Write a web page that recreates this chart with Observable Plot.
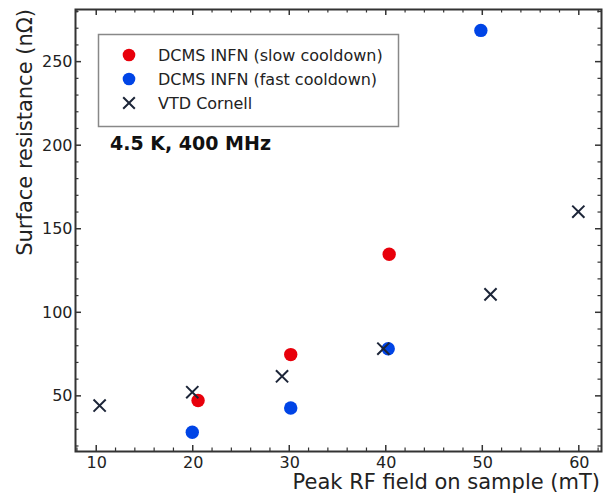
<!DOCTYPE html>
<html>
<head>
<meta charset="utf-8">
<script src="https://cdn.jsdelivr.net/npm/d3@7"></script>
<script src="https://cdn.jsdelivr.net/npm/@observablehq/plot@0.6"></script>
<style>
  html, body { margin: 0; padding: 0; background: #fff; }
  svg { font-family: "DejaVu Sans", sans-serif; }
</style>
</head>
<body>
<div id="chart"></div>
<script>
// Data
const slowField = [20.5, 30.1, 40.3];
const slowRs    = [47.5, 75, 135];
const fastField = [19.9, 30.1, 40.2, 49.8];
const fastRs    = [28.5, 43, 78.5, 269];
const vtdField  = [10.3, 19.9, 29.2, 39.7, 50.8, 59.9];
const vtdRs     = [44.5, 52.5, 62, 78.5, 111, 160.5];

const seriesNames = ["DCMS INFN (slow cooldown)", "DCMS INFN (fast cooldown)", "VTD Cornell"];
const xMajor = [10, 20, 30, 40, 50, 60];
const yMajor = [50, 100, 150, 200, 250];
const xMinor = d3.range(8, 63, 2).filter(v => v % 10 !== 0);
const yMinor = d3.range(20, 281, 10).filter(v => v % 50 !== 0);

const slow = slowField.map((x, i) => ({x, y: slowRs[i]}));
const fast = fastField.map((x, i) => ({x, y: fastRs[i]}));
const vtd  = vtdField.map((x, i) => ({x, y: vtdRs[i]}));

const RED = "#e8000b", BLUE = "#0044e6", NAVY = "#1c2538", AX = "#333";

const ML = 75, MR = 7, MT = 9, MB = 45, W = 608, H = 496;

const plot = Plot.plot({
  width: W,
  height: H,
  marginLeft: ML,
  marginRight: MR,
  marginTop: MT,
  marginBottom: MB,
  style: {fontFamily: "DejaVu Sans, sans-serif", fontSize: "16px", color: "#222", background: "#fff"},
  x: {domain: [7.8, 62.3]},
  y: {domain: [17, 281.5]},
  marks: [
    Plot.axisX({anchor: "bottom", ticks: xMajor, tickSize: 0, tickPadding: 5, fontSize: 16, label: null}),
    Plot.axisY({anchor: "left", ticks: yMajor, tickSize: 0, tickPadding: 3, fontSize: 16, label: null}),
    Plot.frame({stroke: AX, strokeWidth: 2}),
    Plot.dot(slow, {x: "x", y: "y", r: 6.7, fill: RED}),
    Plot.dot(fast, {x: "x", y: "y", r: 6.7, fill: BLUE}),
    Plot.dot(vtd, {x: "x", y: "y", r: 5.6, symbol: "times", stroke: NAVY, strokeWidth: 2})
  ]
});
document.getElementById("chart").appendChild(plot);

const svg = d3.select(plot);
const sx = plot.scale("x"), sy = plot.scale("y");
const X0 = ML, X1 = W - MR, Y0 = MT, Y1 = H - MB;

// inward ticks on all four sides
const tg = svg.append("g").attr("stroke", AX).attr("fill", "none");
function xt(vals, len, w) {
  vals.forEach(v => {
    const px = sx.apply(v);
    tg.append("line").attr("x1", px).attr("x2", px).attr("y1", Y1).attr("y2", Y1 - len).attr("stroke-width", w);
    tg.append("line").attr("x1", px).attr("x2", px).attr("y1", Y0).attr("y2", Y0 + len).attr("stroke-width", w);
  });
}
function yt(vals, len, w) {
  vals.forEach(v => {
    const py = sy.apply(v);
    tg.append("line").attr("y1", py).attr("y2", py).attr("x1", X0).attr("x2", X0 + len).attr("stroke-width", w);
    tg.append("line").attr("y1", py).attr("y2", py).attr("x1", X1).attr("x2", X1 - len).attr("stroke-width", w);
  });
}
xt(xMajor, 6, 1.5); xt(xMinor, 3.5, 1.2);
yt(yMajor, 6, 1.5); yt(yMinor, 3.5, 1.2);

// axis titles
svg.append("text")
  .attr("transform", "translate(32,9) rotate(-90)")
  .attr("text-anchor", "end")
  .attr("font-size", 21)
  .attr("fill", "#222")
  .text("Surface resistance (nΩ)");
svg.append("text")
  .attr("x", 600).attr("y", 489)
  .attr("text-anchor", "end")
  .attr("font-size", 21)
  .attr("fill", "#222")
  .text("Peak RF field on sample (mT)");

// annotation
svg.append("text")
  .attr("x", 110).attr("y", 150)
  .attr("text-anchor", "start")
  .attr("font-size", 19)
  .attr("font-weight", "bold")
  .attr("fill", "#111")
  .text("4.5 K, 400 MHz");

// legend
const lg = svg.append("g");
lg.append("rect").attr("x", 98.5).attr("y", 34.5).attr("width", 300).attr("height", 92)
  .attr("fill", "#fff").attr("stroke", "#888").attr("stroke-width", 1.5);
const rowY = [55, 79, 103];
lg.append("circle").attr("cx", 129).attr("cy", rowY[0]).attr("r", 6.3).attr("fill", RED);
lg.append("circle").attr("cx", 129).attr("cy", rowY[1]).attr("r", 6.3).attr("fill", BLUE);
lg.append("path").attr("d", d3.symbol(d3.symbolTimes, 90)()).attr("transform", `translate(129,${rowY[2]})`)
  .attr("stroke", NAVY).attr("stroke-width", 2).attr("fill", "none");
seriesNames.forEach((s, i) => {
  lg.append("text").attr("x", 158).attr("y", rowY[i]).attr("dy", "0.36em")
    .attr("text-anchor", "start")
    .attr("font-size", 16).attr("fill", "#222").text(s);
});
</script>
</body>
</html>
